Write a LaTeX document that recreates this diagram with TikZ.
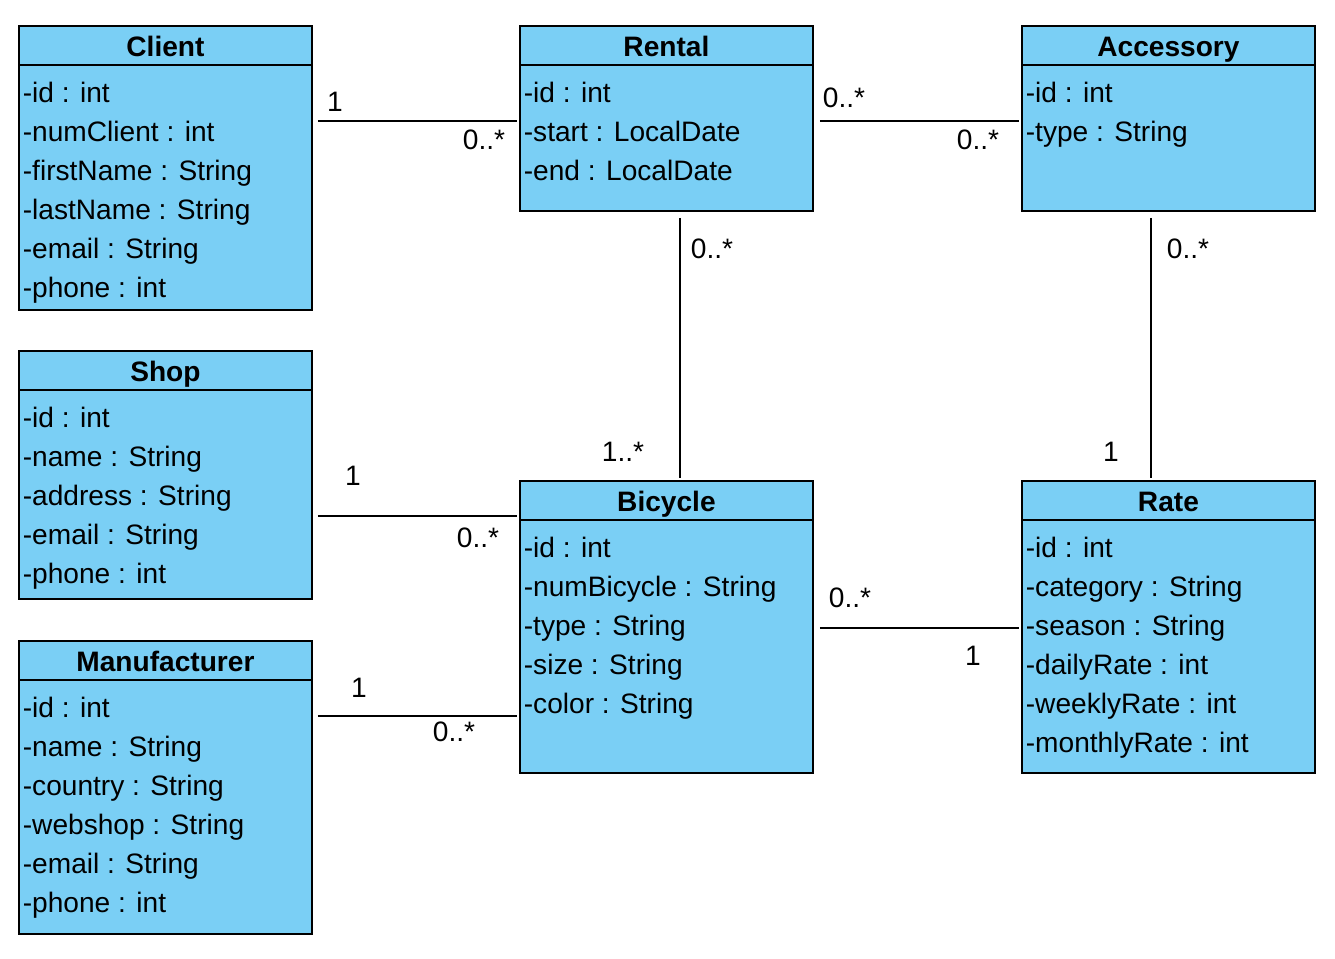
\documentclass[tikz,border=0pt]{standalone}
\usepackage{fontspec}
\setmainfont{Liberation Sans}
\usetikzlibrary{positioning}
\definecolor{classblue}{RGB}{122,207,245}
\tikzset{
	classbox/.style={draw, fill=classblue, line width=1.1pt, anchor=north west, minimum width=5.86cm, inner sep=0pt},
	classname/.style={font=\fontsize{16}{19}\selectfont\bfseries, anchor=base, inner sep=0pt},
	attr/.style={font=\fontsize{16}{19}\selectfont, anchor=base west, inner sep=0pt},
	mult/.style={font=\fontsize{16}{19}\selectfont, inner sep=0pt},
	assoc/.style={line width=1.1pt}
}
\begin{document}
\begin{tikzpicture}[x=0.02cm, y=-0.02cm]
	\useasboundingbox (0,0) rectangle (1335,959);
	
	% Client
	\node[classbox, minimum height=5.68cm] (client) at (18,25) {};
	\draw[line width=1.1pt] ([yshift=-0.8cm]client.north west) -- ([yshift=-0.8cm]client.north east);
	\node[classname] (clientname) at ([yshift=-0.63cm]client.north) {Client};
	\foreach \a [count=\i from 0] in {-id : int, -numClient : int, -firstName : String, -lastName : String, -email : String, -phone : int}
	{
		\node[attr] at ([xshift=0.09cm, yshift=-1.55cm-\i*0.78cm]client.north west) {\a};
	}
	
	% Rental
	\node[classbox, minimum height=3.7cm] (rental) at (519,25) {};
	\draw[line width=1.1pt] ([yshift=-0.8cm]rental.north west) -- ([yshift=-0.8cm]rental.north east);
	\node[classname] (rentalname) at ([yshift=-0.63cm]rental.north) {Rental};
	\foreach \a [count=\i from 0] in {-id : int, -start : LocalDate, -end : LocalDate}
	{
		\node[attr] at ([xshift=0.09cm, yshift=-1.55cm-\i*0.78cm]rental.north west) {\a};
	}
	
	% Accessory
	\node[classbox, minimum height=3.7cm] (accessory) at (1021,25) {};
	\draw[line width=1.1pt] ([yshift=-0.8cm]accessory.north west) -- ([yshift=-0.8cm]accessory.north east);
	\node[classname] (accessoryname) at ([yshift=-0.63cm]accessory.north) {Accessory};
	\foreach \a [count=\i from 0] in {-id : int, -type : String}
	{
		\node[attr] at ([xshift=0.09cm, yshift=-1.55cm-\i*0.78cm]accessory.north west) {\a};
	}
	
	% Shop
	\node[classbox, minimum height=4.96cm] (shop) at (18,350) {};
	\draw[line width=1.1pt] ([yshift=-0.8cm]shop.north west) -- ([yshift=-0.8cm]shop.north east);
	\node[classname] (shopname) at ([yshift=-0.63cm]shop.north) {Shop};
	\foreach \a [count=\i from 0] in {-id : int, -name : String, -address : String, -email : String, -phone : int}
	{
		\node[attr] at ([xshift=0.09cm, yshift=-1.55cm-\i*0.78cm]shop.north west) {\a};
	}
	
	% Bicycle
	\node[classbox, minimum height=5.84cm] (bicycle) at (519,480) {};
	\draw[line width=1.1pt] ([yshift=-0.8cm]bicycle.north west) -- ([yshift=-0.8cm]bicycle.north east);
	\node[classname] (bicyclename) at ([yshift=-0.63cm]bicycle.north) {Bicycle};
	\foreach \a [count=\i from 0] in {-id : int, -numBicycle : String, -type : String, -size : String, -color : String}
	{
		\node[attr] at ([xshift=0.09cm, yshift=-1.55cm-\i*0.78cm]bicycle.north west) {\a};
	}
	
	% Rate
	\node[classbox, minimum height=5.84cm] (rate) at (1021,480) {};
	\draw[line width=1.1pt] ([yshift=-0.8cm]rate.north west) -- ([yshift=-0.8cm]rate.north east);
	\node[classname] (ratename) at ([yshift=-0.63cm]rate.north) {Rate};
	\foreach \a [count=\i from 0] in {-id : int, -category : String, -season : String, -dailyRate : int, -weeklyRate : int, -monthlyRate : int}
	{
		\node[attr] at ([xshift=0.09cm, yshift=-1.55cm-\i*0.78cm]rate.north west) {\a};
	}
	
	% Manufacturer
	\node[classbox, minimum height=5.86cm] (manufacturer) at (18,640) {};
	\draw[line width=1.1pt] ([yshift=-0.8cm]manufacturer.north west) -- ([yshift=-0.8cm]manufacturer.north east);
	\node[classname] (manufacturername) at ([yshift=-0.63cm]manufacturer.north) {Manufacturer};
	\foreach \a [count=\i from 0] in {-id : int, -name : String, -country : String, -webshop : String, -email : String, -phone : int}
	{
		\node[attr] at ([xshift=0.09cm, yshift=-1.55cm-\i*0.78cm]manufacturer.north west) {\a};
	}
	
	% associations
	\draw[assoc] ([shift={(5,96)}]client.north east) -- ([shift={(-2,96)}]rental.north west);
	\draw[assoc] ([shift={(6,96)}]rental.north east) -- ([shift={(-2,96)}]accessory.north west);
	\draw[assoc] ([shift={(161,6)}]rental.south west) -- ([shift={(161,-2)}]bicycle.north west);
	\draw[assoc] ([shift={(130,6)}]accessory.south west) -- ([shift={(130,-2)}]rate.north west);
	\draw[assoc] ([shift={(5,166)}]shop.north east) -- ([shift={(-2,36)}]bicycle.north west);
	\draw[assoc] ([shift={(5,76)}]manufacturer.north east) -- ([shift={(-2,236)}]bicycle.north west);
	\draw[assoc] ([shift={(6,148)}]bicycle.north east) -- ([shift={(-2,148)}]rate.north west);
	
	% multiplicities
	\node[mult] (m1) at (335,102) {1};
	\node[mult] (m2) at (484,140) {0..*};
	\node[mult] (m3) at (844,98) {0..*};
	\node[mult] (m4) at (978,140) {0..*};
	\node[mult] (m5) at (712,249) {0..*};
	\node[mult] (m6) at (623,452) {1..*};
	\node[mult] (m7) at (1188,249) {0..*};
	\node[mult] (m8) at (1111,452) {1};
	\node[mult] (m9) at (353,476) {1};
	\node[mult] (m10) at (478,538) {0..*};
	\node[mult] (m11) at (359,688) {1};
	\node[mult] (m12) at (454,732) {0..*};
	\node[mult] (m13) at (850,598) {0..*};
	\node[mult] (m14) at (973,656) {1};
	
\end{tikzpicture}
\end{document}
